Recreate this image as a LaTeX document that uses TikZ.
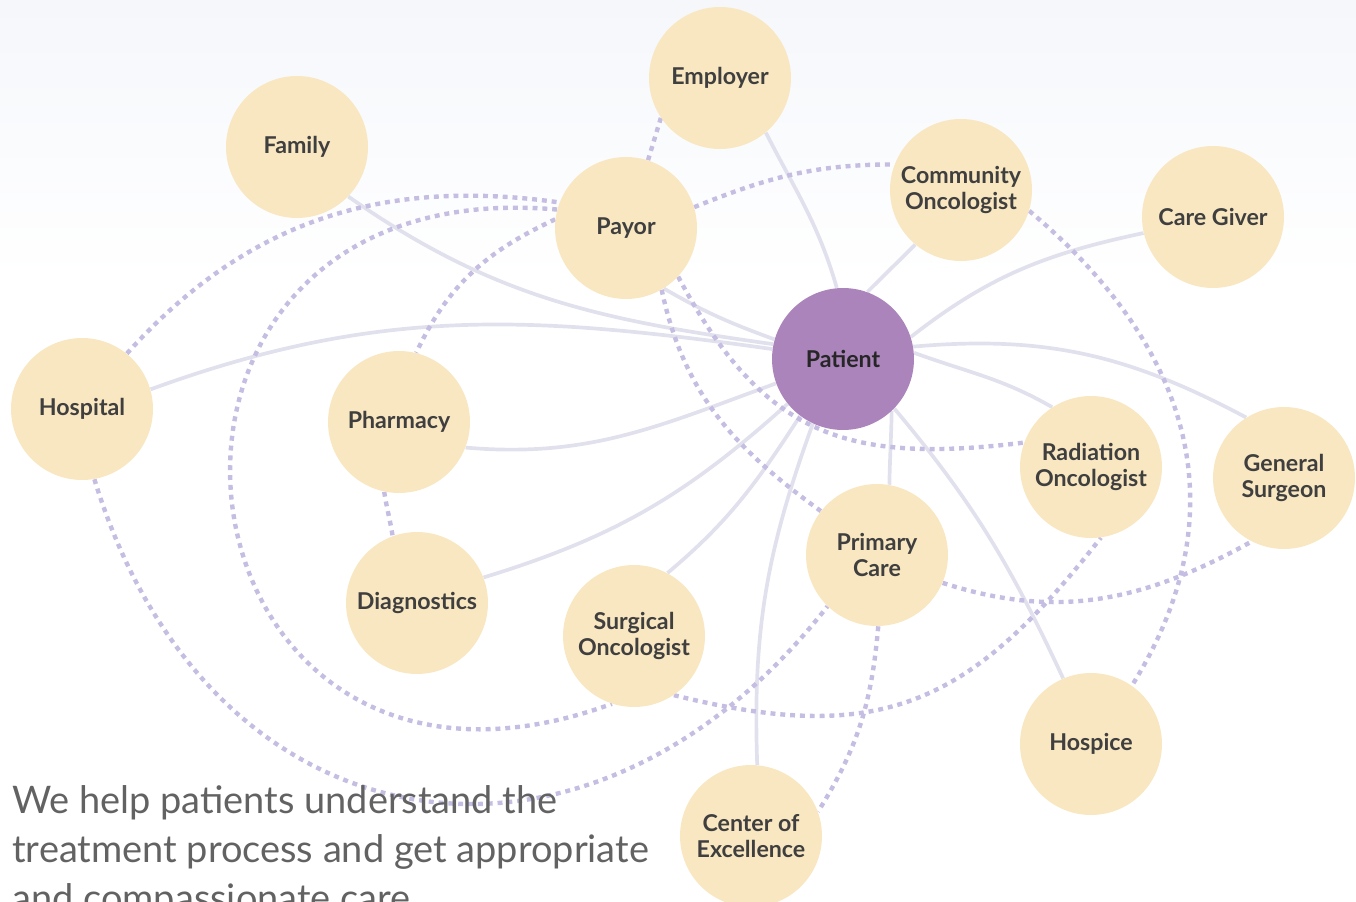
\documentclass[tikz,border=0pt]{standalone}
\usepackage{fontspec}
\setmainfont{Lato}
\usetikzlibrary{backgrounds}

\definecolor{stakefill}{HTML}{F9E7C1}
\definecolor{patientfill}{HTML}{AB84BB}
\definecolor{linkgray}{HTML}{E1E0ED}
\definecolor{dashlilac}{HTML}{C5BDE2}
\definecolor{labelgray}{HTML}{3F3F3F}
\definecolor{blurbgray}{HTML}{626262}
\definecolor{haze}{HTML}{F5F7FB}

\begin{document}
\begin{tikzpicture}[x=0.02cm, y=0.02cm,
  stake/.style={circle, fill=stakefill, minimum size=2.84cm, inner sep=0pt,
    align=center, text=labelgray, font=\bfseries\fontsize{13.2}{14.7}\selectfont},
  link/.style={linkgray, line width=2.1pt},
  tie/.style={dashlilac, line width=2.5pt, dash pattern=on 2.8pt off 2.8pt}]
% Care network around the patient

\useasboundingbox (0,0) rectangle (1356,-902);
\clip (0,0) rectangle (1356,-902);

% Circles
\foreach \n/\x/\y/\t in {emp/720/78/Employer, fam/297/147/Family, pay/626/228/Payor,
    com/961/190/{Community\\Oncologist}, cgv/1213/217/{Care Giver}, hos/82/409/Hospital,
    pha/399/422/Pharmacy, rad/1091/467/{Radiation\\Oncologist}, gen/1284/478/{General\\Surgeon},
    pri/877/555/{Primary\\Care}, dia/417/603/Diagnostics, sur/634/636/{Surgical\\Oncologist},
    hsp/1091/744/Hospice, coe/751/836/{Center of\\Excellence}} {
    \node[stake] (\n) at (\x,-\y) {\t};
}
\node[stake, fill=patientfill, text=black!85] (pat) at (843,-359) {Patient};

\begin{scope}[on background layer]
\shade[top color=haze, bottom color=white] (0,0) rectangle (1356,-280);

% Direct links to the patient
\foreach \a/\b/\o/\i/\l in {emp.-50/pat.95/-63/106/1, pat.70/com.-130/45/225/1,
    pat.18/cgv.193/38/192/1, fam.-44/pat.168/-35/172/1, hos.16/pat.172/20/172/1,
    pay.-58/pat.164/-30/160/1, pha.-21/pat.200/-5/200/1, dia.21/pat.219/17/222/1,
    sur.62/pat.233/40/237/1, coe.85/pat.245/92/250/1, pat.-47/pri.80/-91/89/1,
    pat.-44/hsp.113/-50/115/1, pat.5/rad.123/-20/150/1, pat.10/gen.122/5/152/1} {
    \draw[link] (\a) to[out=\o, in=\i, looseness=\l] (\b);
}

% Dotted ties between the others
\foreach \a/\b/\o/\i/\l in {emp.214/pay.72/253/73/1, hos.51/pay.159/48/172/1,
    pay.165/sur.252/175/200/2.5, pay.173/pha.76/205/65/1, pay.17/com.159/22/180/1,
    pay.-60/pri.142/-78/144/1, pay.-43/rad.160/-62/187/1.2, pha.258/dia.110/279/99/1,
    hos.-80/pri.226/-73/232/1.35, sur.-56/rad.-82/-14/232/1.2, pri.-89/coe.20/-95/58/1,
    pri.-23/gen.243/-18/209/1, com.-17/hsp.55/-40/58/1.1} {
    \draw[tie] (\a) to[out=\o, in=\i, looseness=\l] (\b);
}
\end{scope}

% Caption, last line runs off the page
\foreach \k/\y/\t in {1/813/We help patients understand the,
    2/862/treatment process and get appropriate, 3/911/and compassionate care} {
    \node[anchor=base west, inner sep=0pt, text=blurbgray,
      font=\fontsize{21.6}{24}\selectfont] (blurb\k) at (12,-\y) {\t};
}
\end{tikzpicture}
\end{document}
